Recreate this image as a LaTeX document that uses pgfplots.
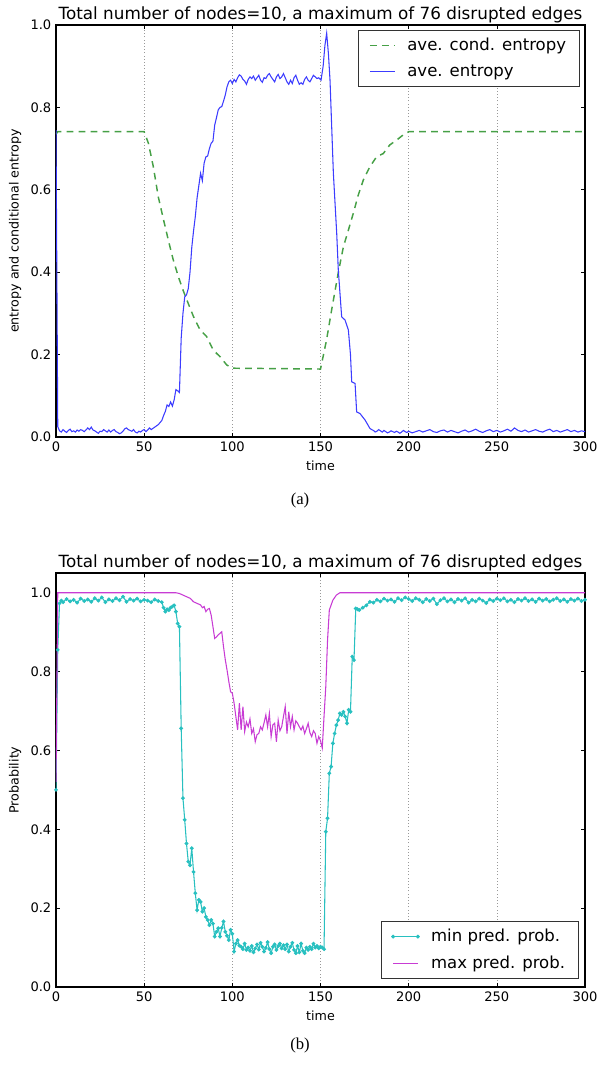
\documentclass[border=0pt]{standalone}
\usepackage{fontspec}
\setmainfont{DejaVu Sans}
\newfontfamily\capfont{Liberation Serif}
\usepackage{pgfplots}
\pgfplotsset{compat=1.18}

\definecolor{entblue}{RGB}{60,60,255}
\definecolor{condgreen}{RGB}{70,160,70}
\definecolor{mincyan}{RGB}{40,192,192}
\definecolor{maxmag}{RGB}{200,60,212}

\pgfplotsset{panel/.style={
  scale only axis,
  width=396.75pt,
  xmin=0, xmax=300,
  xtick={0,50,100,150,200,250,300},
  ytick={0,0.2,0.4,0.6,0.8,1},
  xmajorgrids,
  major grid style={dotted, black!40, line width=0.5pt},
  tick align=inside,
  major tick length=3pt,
  tick style={black, line width=0.5pt},
  axis line style={black, line width=0.8pt},
  /pgf/number format/assume math mode=true,
  yticklabel style={/pgf/number format/.cd, fixed, fixed zerofill, precision=1},
  tick label style={font=\fontsize{9.8}{11}\selectfont},
  label style={font=\fontsize{9.5}{11}\selectfont},
  title style={font=\fontsize{12.6}{14}\selectfont, at={(0.5,1)}, anchor=south, inner sep=0pt, yshift=-4.5pt},
  legend style={font=\fontsize{12.4}{14}\selectfont, draw=black!80,
    inner xsep=8pt, inner ysep=4pt, row sep=5pt, /tikz/column sep=7pt},
  legend cell align=left,
  xlabel={time},
  title={Total number of nodes=10, a maximum of 76 disrupted edges},
}}

\begin{document}
\begin{tikzpicture}
\path[use as bounding box] (0,0) rectangle (449.25pt,-798.75pt);

% (a)
\begin{axis}[panel,
  at={(42pt,-18.75pt)}, anchor=north west,
  height=309pt,
  ymin=0, ymax=1,
  ylabel={entropy and conditional entropy},
  legend style={at={(0.99,0.988)}, anchor=north east},
  legend image code/.code={\draw[#1] (0cm,0cm) -- (0.65cm,0cm);},
]
\addplot[condgreen, draw=condgreen, line width=1.1pt, dash pattern=on 5pt off 4pt] coordinates {
 (0,0.735)(1,0.741)(50,0.741)(52.4,0.713)(55.2,0.656)(58,0.583)(61,0.527)(63.7,0.478)
 (66.5,0.43)(69.4,0.389)(72,0.357)(75,0.324)(78,0.292)(81.7,0.26)(85.4,0.244)(89.2,0.211)
 (93,0.195)(96.8,0.175)(100,0.167)(125,0.166)(150,0.165)(153.4,0.235)(156.3,0.308)(160,0.397)
 (163,0.462)(165.8,0.502)(168.6,0.543)(171.4,0.587)(174.3,0.624)(178,0.656)(181.8,0.68)
 (185.6,0.688)(189.3,0.709)(193,0.72)(196.8,0.733)(200,0.741)(300,0.741)
};
\addlegendentry{ave. cond. entropy}
\addplot[entblue, draw=entblue, line width=0.8pt] coordinates {
 (0,0.745)(1,0.025)(2,0.015)(3,0.012)(4,0.018)(5,0.014)(6,0.011)(7,0.016)(8,0.019)(9,0.013)
 (10,0.015)(11,0.012)(12,0.017)(13,0.014)(14,0.018)(15,0.016)(16,0.013)(17,0.017)(18,0.022)(19,0.018)
 (20,0.024)(21,0.017)(22,0.015)(23,0.012)(24,0.009)(25,0.014)(26,0.013)(27,0.018)(28,0.015)(29,0.012)
 (30,0.017)(31,0.012)(32,0.016)(33,0.018)(34,0.013)(35,0.011)(36,0.008)(37,0.010)(38,0.014)(39,0.020)
 (40,0.022)(41,0.018)(42,0.016)(43,0.014)(44,0.018)(45,0.012)(46,0.010)(47,0.014)(48,0.012)(49,0.016)
 (50,0.018)(51,0.013)(52,0.017)(53,0.022)(54,0.018)(55,0.021)(56,0.024)(57,0.027)(58,0.030)(59,0.035)
 (60,0.040)(61,0.052)(62,0.062)(63,0.078)(64,0.074)(65,0.085)(66,0.075)(67,0.090)(68,0.115)(69,0.112)
 (70,0.108)(71,0.240)(72,0.300)(73,0.340)(74,0.345)(75,0.360)(76,0.400)(77,0.460)(78,0.500)(79,0.535)
 (80,0.580)(81,0.610)(82,0.640)(83,0.622)(84,0.665)(85,0.680)(86,0.682)(87,0.700)(88,0.713)(89,0.718)
 (90,0.757)(91,0.775)(92,0.794)(93,0.800)(94,0.802)(95,0.815)(96,0.830)(97,0.850)(98,0.862)(99,0.866)
 (100,0.858)(101,0.868)(102,0.862)(103,0.872)(104,0.879)(105,0.876)(106,0.868)(107,0.864)(108,0.856)(109,0.868)
 (110,0.874)(111,0.870)(112,0.876)(113,0.866)(114,0.872)(115,0.878)(116,0.866)(117,0.861)(118,0.872)(119,0.870)
 (120,0.878)(121,0.882)(122,0.874)(123,0.868)(124,0.862)(125,0.874)(126,0.880)(127,0.870)(128,0.874)(129,0.882)
 (130,0.872)(131,0.862)(132,0.856)(133,0.866)(134,0.858)(135,0.872)(136,0.878)(137,0.866)(138,0.856)(139,0.860)
 (140,0.856)(141,0.868)(142,0.874)(143,0.866)(144,0.862)(145,0.870)(146,0.878)(147,0.874)(148,0.870)(149,0.872)
 (150.3,0.866)(151.5,0.900)(152.5,0.950)(153.5,0.980)(154.5,0.930)(155.4,0.866)(157.3,0.640)(159.2,0.494)
 (160.1,0.405)(162,0.292)(163.9,0.284)(165.8,0.260)(167,0.200)(167.7,0.134)(169.6,0.130)(170.5,0.061)
 (172.4,0.057)(175.3,0.041)(178,0.021)(179,0.018)(180,0.016)(181,0.012)(182,0.014)(183,0.018)(184,0.015)
 (185,0.012)(186,0.016)(187,0.013)(188,0.010)(189,0.012)(190,0.015)(191,0.013)(192,0.011)(193,0.014)(194,0.012)
 (195,0.009)(196,0.012)(197,0.016)(198,0.013)(199,0.011)(200,0.014)(202,0.010)(204,0.013)(206,0.016)(208,0.012)
 (210,0.015)(212,0.018)(214,0.013)(216,0.011)(218,0.015)(220,0.017)(222,0.012)(224,0.016)(226,0.013)(228,0.010)
 (230,0.014)(232,0.017)(234,0.012)(236,0.015)(238,0.019)(240,0.014)(242,0.011)(244,0.015)(246,0.018)(248,0.013)
 (250,0.016)(252,0.012)(254,0.015)(256,0.019)(258,0.014)(260,0.022)(262,0.016)(264,0.013)(266,0.017)(268,0.012)
 (270,0.015)(272,0.018)(274,0.014)(276,0.012)(278,0.016)(280,0.019)(282,0.013)(284,0.016)(286,0.012)(288,0.015)
 (290,0.018)(292,0.013)(294,0.016)(296,0.012)(298,0.015)(300,0.013)
};
\addlegendentry{ave. entropy}
\end{axis}

% (b)
\begin{axis}[panel,
  at={(42pt,-429.75pt)}, anchor=north west,
  height=310.5pt,
  ymin=0, ymax=1.05,
  ylabel={Probability},
  legend style={at={(0.988,0.02)}, anchor=south east},
  legend image code/.code={\draw[#1] plot coordinates {(0cm,0cm) (0.65cm,0cm)};},
]
\addplot[mincyan, draw=mincyan, line width=0.8pt, mark=*, mark size=1pt, mark options={solid, draw=mincyan, fill=mincyan}] coordinates {
 (0,0.50)(1,0.855)(2,0.973)(3,0.980)(4,0.976)(6,0.984)(8,0.978)(10,0.982)(12,0.975)(14,0.985)
 (16,0.979)(18,0.983)(20,0.977)(22,0.986)(24,0.980)(26,0.988)(28,0.976)(30,0.983)(32,0.979)(34,0.986)
 (36,0.981)(38,0.990)(40,0.977)(42,0.984)(44,0.980)(46,0.985)(48,0.978)(50,0.982)(52,0.980)(54,0.976)
 (56,0.983)(58,0.979)(60,0.976)(61,0.962)(62,0.952)(63,0.958)(64,0.956)(65,0.962)(66,0.965)(67,0.968)
 (68,0.952)(69,0.922)(70,0.914)(71,0.656)(72,0.479)(73,0.424)(74,0.364)(75,0.318)(76,0.309)(77,0.352)
 (78,0.292)(79,0.238)(80,0.195)(81,0.221)(82,0.216)(83,0.191)(84,0.200)(85,0.178)(86,0.170)(87,0.157)
 (88,0.170)(89,0.161)(90,0.128)(91,0.140)(92,0.149)(93,0.128)(94,0.150)(95,0.166)(96,0.140)(97,0.130)
 (98,0.119)(99,0.145)(100,0.135)(101,0.090)(102,0.110)(103,0.119)(104,0.105)(105,0.102)(106,0.096)(107,0.110)
 (108,0.094)(109,0.100)(110,0.092)(111,0.104)(112,0.088)(113,0.098)(114,0.108)(115,0.095)(116,0.112)(117,0.102)
 (118,0.090)(119,0.099)(120,0.114)(121,0.096)(122,0.086)(123,0.102)(124,0.108)(125,0.094)(126,0.104)(127,0.110)
 (128,0.098)(129,0.106)(130,0.096)(131,0.108)(132,0.090)(133,0.102)(134,0.112)(135,0.094)(136,0.086)(137,0.104)
 (138,0.088)(139,0.110)(140,0.092)(141,0.086)(142,0.100)(143,0.094)(144,0.102)(145,0.096)(146,0.110)(147,0.100)
 (148,0.104)(149,0.098)(150,0.102)(151,0.100)(152,0.096)(153,0.394)(154,0.428)(155,0.542)(156,0.559)(157,0.618)
 (158,0.643)(159,0.664)(160,0.677)(161,0.694)(162,0.690)(163,0.698)(164,0.686)(165,0.669)(166,0.703)(167,0.698)
 (168,0.838)(169,0.829)(170,0.960)(171,0.958)(172,0.956)(174,0.962)(176,0.968)(178,0.977)(180,0.975)(182,0.982)
 (184,0.978)(186,0.985)(188,0.980)(190,0.983)(192,0.977)(194,0.986)(196,0.981)(198,0.988)(200,0.984)(202,0.979)
 (204,0.986)(206,0.982)(208,0.976)(210,0.984)(212,0.979)(214,0.985)(216,0.971)(218,0.981)(220,0.986)(222,0.978)
 (224,0.983)(226,0.976)(228,0.984)(230,0.980)(232,0.986)(234,0.975)(236,0.982)(238,0.978)(240,0.985)(242,0.980)
 (244,0.974)(246,0.983)(248,0.979)(250,0.985)(252,0.981)(254,0.986)(256,0.978)(258,0.982)(260,0.976)(262,0.984)
 (264,0.980)(266,0.986)(268,0.979)(270,0.983)(272,0.977)(274,0.985)(276,0.980)(278,0.984)(280,0.978)(282,0.982)
 (284,0.986)(286,0.979)(288,0.983)(290,0.977)(292,0.984)(294,0.980)(296,0.985)(298,0.979)(300,0.982)
};
\addlegendentry{min pred. prob.}
\addplot[maxmag, draw=maxmag, line width=0.8pt] coordinates {
 (0,0.52)(1,1.0)(68,1.0)(70,0.998)(72,0.994)(74,0.990)(76,0.986)(78,0.977)(80,0.973)(82,0.969)
 (83,0.962)(84,0.965)(85,0.952)(86,0.958)(87,0.960)(88,0.943)(89,0.914)(90,0.884)(91,0.888)(92,0.893)
 (93,0.897)(94,0.901)(95,0.863)(96,0.830)(97,0.804)(98,0.775)(99,0.749)(100,0.745)(101,0.720)(102,0.686)
 (103,0.652)(104,0.720)(105,0.652)(106,0.711)(107,0.648)(108,0.672)(109,0.660)(110,0.680)(111,0.643)(112,0.655)
 (113,0.622)(114,0.640)(115,0.643)(116,0.660)(117,0.652)(118,0.670)(119,0.690)(120,0.660)(121,0.694)(122,0.635)
 (123,0.665)(124,0.669)(125,0.622)(126,0.677)(127,0.650)(128,0.660)(129,0.686)(130,0.711)(131,0.643)(132,0.698)
 (133,0.660)(134,0.686)(135,0.652)(136,0.675)(137,0.669)(138,0.660)(139,0.652)(140,0.662)(141,0.643)(142,0.655)
 (143,0.669)(144,0.645)(145,0.635)(146,0.650)(147,0.643)(148,0.618)(149,0.635)(150,0.625)(151,0.606)(152,0.686)
 (153,0.762)(154,0.880)(155,0.956)(157,0.981)(159,0.994)(161,1.0)(300,1.0)
};
\addlegendentry{max pred. prob.}
\end{axis}

\node[font=\capfont\fontsize{12.5}{14}\selectfont] at (225pt,-375pt) {(a)};
\node[font=\capfont\fontsize{12.5}{14}\selectfont] at (225pt,-783.75pt) {(b)};
\end{tikzpicture}
\end{document}
